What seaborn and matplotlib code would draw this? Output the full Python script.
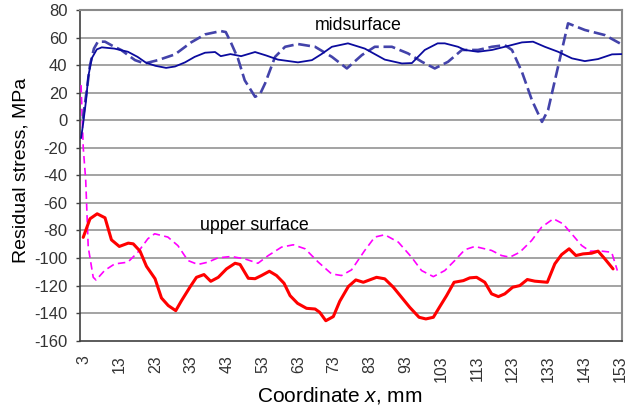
import matplotlib
matplotlib.use("Agg")
import matplotlib.pyplot as plt
import seaborn as sns
import pandas as pd

# ---- data ----
mid_solid_x = [2.2, 2.8, 3.6, 4.2, 5.2, 6.6, 8.0, 11.5, 15.3, 18.0, 20.4, 23.0, 26.0, 28.5,
               31.3, 34.0, 36.9, 39.7, 41.3, 44.0, 47.0, 50.9, 54.0, 57.3, 62.9, 66.8, 69.5,
               72.4, 76.9, 81.6, 87.2, 92.0, 94.8, 98.4, 102.0, 104.0, 107.7, 109.6, 113.3,
               117.2, 120.8, 125.6, 128.7, 132.0, 135.7, 139.6, 143.2, 146.9, 150.8, 153.6]
mid_solid_y = [-13, -2, 14.5, 31.5, 45, 51.4, 52.9, 52, 49.7, 46, 41.7, 39.5, 38, 39,
               42, 46, 49, 49.5, 46.5, 48, 46.5, 49.5, 47, 44, 42, 43.6, 48,
               53.3, 55.8, 52, 44, 41.2, 41.5, 51, 55.8, 55.8, 53.3, 51, 49.7,
               51, 53.3, 56.5, 57, 53.3, 49.7, 44.9, 42.9, 44.4, 47.8, 48]

mid_dash_x = [2.7, 3.7, 4.7, 5.8, 6.9, 8.9, 11.0, 13.4, 17.3, 20.0, 23.7, 28.5, 33.0, 36.9,
              41.3, 42.7, 44.2, 46.1, 48.0, 50.9, 52.3, 53.7, 56.5, 59.3, 62.9, 67.7, 72.4,
              76.6, 80.8, 84.4, 89.2, 93.7, 97.6, 101.2, 104.9, 108.8, 113.3, 117.2, 120.8,
              122.8, 125.6, 128.4, 131.2, 132.9, 135.7, 138.5, 143.2, 148.8, 153.0]
mid_dash_y = [1, 20, 40, 52, 57, 57, 54, 51, 43.6, 41.2, 43.6, 47.8, 56.5, 62.3,
              64.7, 64, 56, 44.9, 29, 17, 19, 26.7, 46, 53.3, 55.3, 53.3, 46,
              37.6, 47.3, 53.3, 53.3, 48.5, 42.4, 37.6, 42.4, 51, 51, 53.3, 54.5,
              51, 35, 14.5, -1.2, 7.3, 38.8, 70.3, 65.5, 61.8, 55.8]

upper_solid_x = [2.8, 4.7, 6.7, 8.9, 10.7, 12.9, 15.4, 16.8, 18.7, 20.5, 22.9, 24.7, 26.6,
                 28.7, 30.3, 32.7, 34.5, 36.6, 38.5, 40.6, 42.9, 45.3, 46.7, 49.0, 50.9,
                 52.7, 54.9, 56.9, 59.0, 60.7, 62.8, 65.3, 67.7, 69.0, 70.7, 72.8, 74.6,
                 77.0, 79.1, 81.2, 84.9, 87.2, 89.6, 91.9, 94.2, 96.8, 98.7, 100.8, 102.6,
                 104.5, 106.6, 109.2, 111.0, 112.9, 115.2, 117.1, 119.0, 120.8, 123.0,
                 125.0, 127.1, 129.2, 132.7, 134.8, 136.7, 138.8, 140.7, 142.7, 145.1,
                 146.9, 148.8, 151.1]
upper_solid_y = [-85, -71.5, -67.9, -70.8, -86.8, -91.6, -89.2, -89.7, -95, -106, -115, -129,
                 -134.5, -138.2, -131, -121, -114, -112, -116.9, -114, -107.9, -103.8,
                 -104.7, -114.7, -115, -112.7, -109.6, -112.7, -118.3, -127.3, -132.9,
                 -136.5, -137, -139.4, -145.5, -142.5, -131.4, -120.7, -115.9, -117.6,
                 -114, -115.1, -121.2, -128.5, -135.8, -143, -144.2, -143, -135.3, -127.3,
                 -117.6, -116.4, -114.4, -114, -117.6, -126, -128, -126, -121.2, -120,
                 -115.6, -116.8, -117.6, -104.2, -97.5, -93.3, -98.2, -97, -96.5, -95,
                 -100.6, -107.9]

upper_dash_x = [2.2, 2.8, 3.5, 4.2, 5.6, 6.4, 8.8, 11.6, 15.3, 18.1, 20.9, 22.8, 26.5, 29.3,
                32.1, 34.9, 37.7, 40.5, 44.2, 48.0, 51.7, 54.6, 58.3, 61.6, 64.9, 68.6,
                72.3, 75.1, 77.9, 81.6, 84.4, 87.2, 91.0, 94.7, 97.5, 100.8, 104.0, 106.8,
                109.6, 112.4, 117.1, 119.9, 122.2, 125.0, 128.3, 131.1, 134.4, 137.1,
                139.5, 142.3, 144.6, 147.9, 150.7, 152.3]
upper_dash_y = [25.5, -19.6, -43.6, -92, -114, -116, -109, -104.3, -103, -95.8, -86, -82.4,
                -84.8, -91, -101.8, -104.7, -103, -99.9, -98.9, -100.6, -103.8, -98.2,
                -92.1, -90.4, -93.3, -103, -111.5, -112.7, -108.6, -94.5, -84.8, -83.1,
                -88.5, -99.4, -109.1, -113.5, -109.1, -101.8, -94, -91.6, -94.5, -98.2,
                -99.4, -95.8, -87.3, -77.6, -71.5, -75.2, -82.4, -90.9, -95, -95, -95.8,
                -109.1]

x_ticks = [3, 13, 23, 33, 43, 53, 63, 73, 83, 93, 103, 113, 123, 133, 143, 153]
y_ticks = [-160, -140, -120, -100, -80, -60, -40, -20, 0, 20, 40, 60, 80]

# ---- style ----
sns.set_theme(style="white")
plt.rcParams["font.family"] = ["Liberation Sans", "DejaVu Sans"]
plt.rcParams["mathtext.fontset"] = "custom"
plt.rcParams["mathtext.rm"] = "Liberation Sans"
plt.rcParams["mathtext.it"] = "Liberation Sans:italic"
plt.rcParams["axes.unicode_minus"] = False

fig = plt.figure(figsize=(6.26, 4.11), dpi=100)
ax = fig.add_axes([80 / 626, 1 - 340.7 / 411, 542 / 626, 330.7 / 411])

ax.grid(False)
for yv in y_ticks[1:-1]:
    ax.axhline(yv, color="#8a8a8a", lw=1.1, zorder=0)

df_ms = pd.DataFrame({"x": mid_solid_x, "y": mid_solid_y})
df_md = pd.DataFrame({"x": mid_dash_x, "y": mid_dash_y})
df_us = pd.DataFrame({"x": upper_solid_x, "y": upper_solid_y})
df_ud = pd.DataFrame({"x": upper_dash_x, "y": upper_dash_y})

sns.lineplot(data=df_ud, x="x", y="y", ax=ax, color="#ff00ff", lw=1.2,
             linestyle=(0, (4.5, 2.6)), estimator=None, sort=False, zorder=3)
sns.lineplot(data=df_us, x="x", y="y", ax=ax, color="#ff0000", lw=2.2,
             estimator=None, sort=False, zorder=4)
sns.lineplot(data=df_md, x="x", y="y", ax=ax, color="#4343aa", lw=1.9,
             linestyle=(0, (4.5, 1.8)), estimator=None, sort=False, zorder=5)
sns.lineplot(data=df_ms, x="x", y="y", ax=ax, color="#0b0b9e", lw=1.3,
             estimator=None, sort=False, zorder=6)

ax.set_xlim(1.9, 153.6)
ax.set_ylim(-160, 80)
ax.set_xticks(x_ticks)
ax.set_xticklabels([str(v) for v in x_ticks], rotation=90)
ax.set_yticks(y_ticks)
ax.set_yticklabels([str(v) for v in y_ticks])
ax.tick_params(axis="x", length=0, pad=10.5, labelsize=11.5, labelcolor="#333333")
ax.tick_params(axis="y", length=3, width=1, color="#404040", pad=6,
               labelsize=12, labelcolor="#333333", left=True)

for s in ["left", "bottom"]:
    ax.spines[s].set_color("#404040")
    ax.spines[s].set_linewidth(1.2)
for s in ["top", "right"]:
    ax.spines[s].set_color("#8a8a8a")
    ax.spines[s].set_linewidth(1.5)

ax.set_xlabel("Coordinate $\\mathit{x}$, mm", fontsize=15, color="black")
ax.set_ylabel("Residual stress, MPa", fontsize=14, color="black")
ax.xaxis.set_label_coords(0.48, -0.135)
ax.yaxis.set_label_coords(-0.094, 0.515)

ax.text(79.7, 65.5, "midsurface", fontsize=12.8, ha="center", va="baseline", color="black")
ax.text(50.6, -79.5, "upper surface", fontsize=12.8, ha="center", va="baseline", color="black")

fig.savefig("out.png", dpi=100)
